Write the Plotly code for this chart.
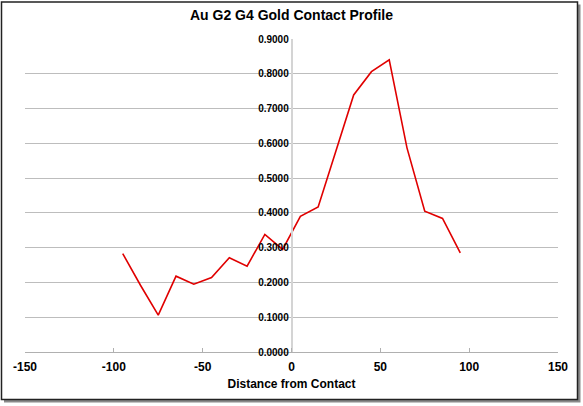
import plotly.graph_objects as go

distance = [-95, -85, -75, -65, -55, -45, -35, -25, -15, -5, 5, 15, 25, 35, 45, 55, 65, 75, 85, 95]
contact = [0.283, 0.192, 0.106, 0.218, 0.195, 0.214, 0.271, 0.247, 0.338, 0.295, 0.390, 0.417, 0.578, 0.739, 0.806, 0.840, 0.587, 0.405, 0.384, 0.285]
x_tick_values = [-150, -100, -50, 0, 50, 100, 150]
x_tick_labels = ["-150", "-100", "-50", "0", "50", "100", "150"]

W, H = 583, 406
L, R, T, B = 25, 25, 38.5, 53.7
PW, PH = W - L - R, H - T - B

def px(x):
    return (x - L) / PW

def py(y):
    return (H - B - y) / PH

fig = go.Figure()
fig.add_trace(go.Scatter(x=distance, y=contact, mode="lines",
                         line=dict(color="#e00000", width=1.6), showlegend=False))

shapes = [
    dict(type="rect", xref="paper", yref="paper", x0=px(4), x1=px(580.5), y0=py(403), y1=py(4),
         line=dict(width=0), fillcolor="#8a8a8a", layer="below"),
    dict(type="rect", xref="paper", yref="paper", x0=px(1.5), x1=px(577.5), y0=py(400), y1=py(1.5),
         line=dict(width=1.5, color="#222222"), fillcolor="white", layer="below"),
]

fig.update_layout(
    width=W, height=H,
    margin=dict(l=L, r=R, t=T, b=B, pad=0),
    paper_bgcolor="white", plot_bgcolor="rgba(0,0,0,0)",
    shapes=shapes,
    title=dict(text="<b>Au G2 G4 Gold Contact Profile</b>", x=0.5, xanchor="center",
               y=1 - 15.5 / H, yanchor="middle",
               font=dict(family="Liberation Sans, Arial", size=14, color="black")),
    font=dict(family="Liberation Sans, Arial", color="black"),
    xaxis=dict(range=[-150, 150], tickvals=x_tick_values, ticktext=x_tick_labels,
               showgrid=False, zeroline=False,
               showline=True, linecolor="#b0b0b0", linewidth=1,
               ticks="inside", ticklen=4, tickcolor="#b0b0b0", ticklabelstandoff=4,
               tickfont=dict(size=12, family="Liberation Sans, Arial", color="black", weight="bold"),
               title=dict(text="<b>Distance from Contact</b>", standoff=6,
                          font=dict(size=12, family="Liberation Sans, Arial", color="black"))),
    yaxis=dict(range=[0, 0.9], dtick=0.1, tickformat=".4f", anchor="free", position=0.5,
               showgrid=True, gridcolor="#bdbdbd", gridwidth=1, zeroline=False,
               showline=True, linecolor="#d4d4d4", linewidth=1.5,
               ticks="", tickfont=dict(size=10, family="Liberation Sans, Arial", color="black", weight="bold")),
)

fig.write_html("out.html")
